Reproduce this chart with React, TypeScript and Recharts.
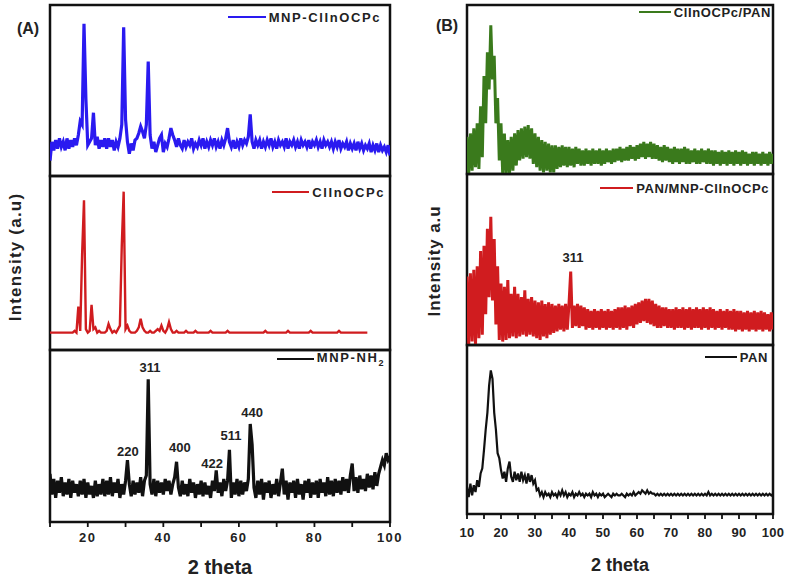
import React from "react"
import { LineChart, Line, XAxis, YAxis, ReferenceArea, ReferenceDot, Legend } from "recharts"

const FONT = '"Liberation Sans", Arial, Helvetica, sans-serif'

// 2θ sampling grid: every series starts at 10° and is read every 0.5°
const X_START = 10
const X_STEP = 0.5

// intensity values are read as % of each stacked frame's height

// (A) MNP-ClInOCPc
const mnpClInOCPc = [
	9, 20, 15, 21, 16, 22, 17, 20, 15, 22,
	16, 21, 17, 22, 18, 24, 32, 30, 89, 45,
	18, 20, 22, 37, 18, 23, 16, 21, 17, 22,
	16, 22, 17, 21, 15, 20, 17, 22, 30, 87,
	33, 20, 13, 19, 15, 21, 22, 25, 29, 26,
	22, 30, 67, 24, 16, 20, 14, 18, 22, 24,
	14, 19, 17, 22, 28, 24, 21, 17, 22, 18,
	16, 21, 17, 20, 18, 22, 16, 19, 17, 21,
	18, 22, 16, 20, 17, 21, 18, 22, 17, 20,
	16, 21, 18, 22, 28, 20, 17, 21, 16, 20,
	17, 22, 18, 21, 19, 23, 36, 20, 16, 21,
	18, 21, 16, 20, 17, 21, 18, 22, 17, 20,
	16, 21, 18, 20, 17, 22, 16, 20, 18, 21,
	17, 20, 16, 21, 18, 20, 17, 21, 16, 20,
	18, 21, 17, 20, 16, 21, 18, 20, 17, 20,
	16, 20, 17, 21, 16, 19, 17, 20, 15, 19,
	16, 19, 15, 20, 16, 19, 15, 18, 16, 19,
	14, 18, 15, 19, 14, 18, 15, 17, 14, 18,
	12,
]

// (A) ClInOCPc, recorded up to 94°
const clInOCPc = [
	10, 10, 10, 10, 10, 10, 10, 10, 10, 10,
	10, 10, 10, 11, 10, 25, 11, 55, 86, 12,
	10, 11, 26, 12, 13, 10, 11, 10, 10, 10,
	11, 15, 12, 10, 11, 10, 12, 14, 60, 91,
	12, 14, 11, 10, 10, 10, 11, 13, 18, 13,
	11, 10, 10, 11, 10, 10, 11, 12, 11, 14,
	11, 10, 12, 16, 12, 10, 10, 11, 10, 10,
	10, 10, 11, 10, 10, 10, 10, 11, 10, 10,
	10, 10, 10, 10, 10, 11, 10, 10, 10, 10,
	10, 10, 10, 10, 11, 10, 10, 10, 10, 10,
	10, 10, 10, 10, 10, 10, 10, 10, 10, 10,
	10, 10, 10, 10, 11, 10, 10, 10, 10, 10,
	10, 10, 10, 10, 10, 10, 11, 10, 10, 10,
	10, 10, 10, 10, 10, 10, 10, 10, 11, 10,
	10, 10, 10, 10, 10, 10, 10, 10, 10, 10,
	10, 10, 10, 11, 10, 10, 10, 10, 10, 10,
	10, 10, 10, 10, 10, 10, 10, 10, 10,
]

// (A) MNP-NH2
const mnpNH2 = [
	28, 16, 25, 14, 24, 17, 26, 15, 23, 16,
	25, 14, 24, 17, 22, 15, 24, 16, 25, 14,
	23, 16, 21, 14, 24, 15, 22, 16, 25, 15,
	24, 16, 26, 15, 23, 17, 25, 14, 22, 16,
	24, 36, 22, 15, 24, 16, 23, 17, 26, 15,
	24, 27, 83, 22, 16, 25, 15, 24, 17, 23,
	16, 25, 18, 24, 16, 22, 26, 35, 20, 15,
	24, 16, 22, 15, 25, 17, 23, 14, 22, 16,
	24, 15, 23, 16, 21, 14, 24, 18, 30, 17,
	23, 15, 25, 18, 24, 42, 14, 23, 16, 25,
	15, 24, 16, 23, 18, 25, 57, 45, 20, 14,
	24, 16, 25, 13, 23, 17, 24, 14, 22, 16,
	25, 15, 23, 31, 16, 24, 13, 23, 17, 24,
	14, 25, 16, 22, 13, 24, 17, 25, 14, 23,
	16, 24, 14, 25, 17, 23, 15, 26, 16, 24,
	15, 25, 17, 24, 16, 26, 18, 25, 17, 27,
	34, 18, 26, 17, 27, 19, 25, 18, 28, 20,
	27, 19, 29, 21, 28, 32, 36, 33, 40, 36,
	38,
]

// (B) ClInOCPc/PAN
const clInOCPcPAN = [
	22, 0, 24, 2, 27, 4, 30, 3, 40, 10,
	58, 30, 72, 50, 88, 56, 70, 30, 45, 8,
	30, 0, 24, 0, 20, 0, 22, 2, 24, 5,
	26, 8, 27, 9, 28, 10, 29, 9, 27, 6,
	24, 4, 22, 2, 20, 1, 19, 2, 18, 1,
	17, 1, 17, 3, 16, 4, 17, 5, 16, 4,
	16, 5, 15, 4, 16, 6, 15, 5, 14, 5,
	15, 6, 14, 5, 15, 6, 14, 6, 15, 5,
	14, 6, 15, 7, 14, 6, 15, 7, 15, 8,
	16, 7, 15, 8, 16, 8, 17, 9, 16, 8,
	17, 9, 18, 10, 19, 9, 18, 10, 19, 9,
	18, 9, 17, 8, 16, 7, 17, 8, 16, 7,
	15, 6, 16, 7, 15, 6, 15, 7, 16, 6,
	15, 6, 14, 7, 15, 6, 14, 6, 15, 7,
	14, 6, 15, 6, 14, 5, 14, 6, 13, 5,
	14, 6, 13, 5, 14, 6, 13, 5, 14, 6,
	13, 5, 14, 6, 13, 5, 12, 6, 13, 5,
	13, 6, 12, 5, 13, 6, 12, 5, 13, 6,
	12,
]

// (B) PAN/MNP-ClInOCPc
const panMnpClInOCPc = [
	40, 0, 42, 2, 44, 0, 46, 4, 55, 6,
	58, 18, 68, 28, 75, 26, 62, 12, 46, 3,
	36, 2, 34, 3, 38, 4, 30, 5, 34, 4,
	30, 5, 28, 6, 32, 5, 27, 6, 28, 5,
	26, 4, 25, 3, 26, 5, 24, 4, 25, 6,
	24, 7, 23, 8, 24, 9, 23, 8, 24, 9,
	24, 43, 10, 23, 11, 24, 10, 23, 11, 22,
	9, 21, 10, 20, 9, 21, 10, 20, 9, 21,
	10, 20, 9, 21, 10, 20, 9, 21, 10, 22,
	9, 22, 10, 23, 9, 22, 11, 23, 10, 24,
	12, 25, 13, 26, 14, 27, 13, 27, 12, 26,
	11, 24, 10, 23, 10, 22, 11, 22, 10, 21,
	10, 21, 9, 22, 10, 21, 10, 22, 9, 21,
	10, 22, 9, 21, 10, 22, 10, 21, 9, 22,
	10, 21, 9, 22, 10, 21, 9, 20, 10, 21,
	9, 20, 10, 21, 9, 20, 9, 21, 8, 20,
	9, 20, 8, 19, 9, 20, 8, 19, 9, 20,
	8, 19, 9, 20, 8, 19, 9, 18, 8, 19,
	9,
]

// (B) PAN
const pan = [
	16, 10, 18, 11, 17, 13, 20, 16, 24, 27,
	38, 50, 60, 76, 85, 80, 60, 50, 36, 33,
	26, 21, 25, 19, 27, 31, 22, 19, 25, 20,
	24, 19, 25, 20, 23, 18, 24, 19, 23, 18,
	20, 14, 15, 11, 13, 10, 13, 11, 12, 10,
	13, 11, 12, 10, 13, 11, 14, 11, 13, 10,
	12, 11, 13, 10, 12, 11, 13, 11, 12, 10,
	12, 11, 12, 10, 13, 11, 12, 10, 12, 11,
	12, 10, 11, 12, 11, 10, 12, 11, 12, 11,
	11, 12, 11, 10, 12, 11, 12, 11, 13, 11,
	12, 13, 12, 14, 13, 12, 14, 12, 13, 12,
	12, 11, 12, 11, 12, 11, 12, 11, 12, 11,
	12, 11, 12, 11, 12, 11, 12, 11, 12, 11,
	12, 11, 12, 11, 12, 11, 12, 11, 12, 11,
	12, 11, 13, 11, 12, 11, 12, 11, 12, 11,
	12, 11, 12, 11, 12, 11, 12, 11, 12, 11,
	12, 11, 12, 11, 12, 11, 12, 11, 12, 11,
	12, 11, 12, 11, 12, 11, 12, 11, 12, 11,
	12,
]

// Miller indices written beside the peaks
const nh2Peaks = [
	{ text: "311", x: 36.5, y: 90 },
	{ text: "220", x: 30.6, y: 41 },
	{ text: "400", x: 44.4, y: 43.5 },
	{ text: "422", x: 52.9, y: 34 },
	{ text: "511", x: 57.9, y: 50.5 },
	{ text: "440", x: 63.5, y: 64 },
]
const panMnpPeaks = [{ text: "311", x: 41.2, y: 51.5 }]

const ticksA = [10, 20, 30, 40, 50, 60, 70, 80, 90, 100]
const labelsA = [20, 40, 60, 80, 100]
const ticksB = [10, 15, 20, 25, 30, 35, 40, 45, 50, 55, 60, 65, 70, 75, 80, 85, 90, 95, 100]
const labelsB = [10, 20, 30, 40, 50, 60, 70, 80, 90, 100]

const toRows = (values: number[]) => values.map((y, i) => ({ x: X_START + i * X_STEP, y }))

// room round each frame so its border and end tick labels are not clipped
const MY = 3
const MX = 18

interface AxisOpts {
	ticks: number[]
	labels: number[]
	tickMargin: number
	tickFont: number
	tickSpacing: number
	height: number
	title: string
	titleSize: number
	titleOffset: number
}

interface SubplotProps {
	left: number
	top: number
	width: number
	height: number
	values: number[]
	color: string
	strokeWidth: number
	name: React.ReactNode
	legendTop: number
	legendRight: number
	legendLine: number
	legendSpacing: number
	axis?: AxisOpts
	peaks?: Array<{ text: string; x: number; y: number }>
}

const makeTick = (axis: AxisOpts) => (props: any) => {
	const { x, y, payload } = props
	const v = payload.value
	const major = axis.labels.includes(v)
	const y0 = y - 5 - axis.tickMargin
	return (
		<g>
			<line x1={x} x2={x} y1={y0} y2={y0 + 5} stroke="#111" strokeWidth={1.8} />
			{major && (
				<text x={x} y={y} dy="0.71em" textAnchor="middle" fill="#222" fontFamily={FONT}
					fontWeight={700} fontSize={axis.tickFont} letterSpacing={axis.tickSpacing}>
					{v}
				</text>
			)}
		</g>
	)
}

const Subplot = (p: SubplotProps) => {
	const axisH = p.axis ? p.axis.height : 0
	return (
		<div style={{ position: "absolute", left: p.left - MX, top: p.top - MY }}>
			<LineChart
				width={p.width + 2 * MX}
				height={p.height + MY + (p.axis ? axisH : MY)}
				data={toRows(p.values)}
				margin={{ top: MY, right: MX, left: MX, bottom: p.axis ? 0 : MY }}
			>
				<XAxis
					dataKey="x"
					type="number"
					domain={[10, 100]}
					allowDataOverflow
					hide={!p.axis}
					ticks={p.axis?.ticks}
					interval={0}
					height={axisH}
					axisLine={false}
					tickLine={false}
					tickSize={5}
					tickMargin={p.axis?.tickMargin}
					tick={p.axis ? makeTick(p.axis) : false}
					label={p.axis ? {
						value: p.axis.title, position: "insideBottom", offset: p.axis.titleOffset,
						fill: "#222", fontSize: p.axis.titleSize, fontWeight: 700, fontFamily: FONT,
					} : undefined}
				/>
				<YAxis type="number" domain={[0, 100]} allowDataOverflow hide />
				<ReferenceArea x1={10} x2={100} y1={0} y2={100} fill="none" fillOpacity={0}
					stroke="#111" strokeWidth={2.5} ifOverflow="visible" />
				<Line type="linear" dataKey="y" stroke={p.color} strokeWidth={p.strokeWidth}
					dot={false} activeDot={false} isAnimationActive={false} />
				{(p.peaks ?? []).map((pk) => (
					<ReferenceDot key={pk.text + pk.x} x={pk.x} y={pk.y} r={0} fill="none" stroke="none"
						ifOverflow="visible"
						label={{ value: pk.text, position: "center", fill: "#222", fontSize: 13, fontWeight: 700, fontFamily: FONT }} />
				))}
				<Legend
					layout="horizontal"
					verticalAlign="middle"
					align="center"
					wrapperStyle={{ top: MY + p.legendTop - 8, right: MX + p.legendRight, left: "auto", width: "auto" }}
					content={() => (
						<div style={{
							display: "flex", alignItems: "center", justifyContent: "flex-end", height: 16,
							fontFamily: FONT, fontWeight: 700, fontSize: 13, letterSpacing: p.legendSpacing,
							color: "#222", whiteSpace: "nowrap",
						}}>
							<span style={{ display: "inline-block", width: p.legendLine, height: 2.5, background: p.color, marginRight: 3 }} />
							<span>{p.name}</span>
						</div>
					)}
				/>
			</LineChart>
		</div>
	)
}

const axisA: AxisOpts = {
	ticks: ticksA, labels: labelsA, tickMargin: 6, tickFont: 13, tickSpacing: 1.5,
	height: 56, title: "2 theta", titleSize: 20, titleOffset: 4,
}
const axisB: AxisOpts = {
	ticks: ticksB, labels: labelsB, tickMargin: 9, tickFont: 13, tickSpacing: 0.3,
	height: 64, title: "2 theta", titleSize: 18, titleOffset: 7,
}

export default function App() {
	return (
		<div style={{ position: "absolute", left: 0, top: 0, width: 789, height: 578, background: "#fff", overflow: "hidden" }}>
			{/* panel A */}
			<Subplot left={50} top={5} width={340} height={171} values={mnpClInOCPc} color="#2a1af0" strokeWidth={3.2}
				name="MNP-ClInOCPc" legendTop={12} legendRight={9} legendLine={38} legendSpacing={1.6} />
			<Subplot left={50} top={176} width={340} height={174} values={clInOCPc} color="#d01c1f" strokeWidth={2.4}
				name="ClInOCPc" legendTop={16} legendRight={5} legendLine={37} legendSpacing={1.6} />
			<Subplot left={50} top={350} width={340} height={172} values={mnpNH2} color="#111" strokeWidth={3.2}
				name={<>MNP-NH<span style={{ fontSize: 9, verticalAlign: -4 }}>2</span></>}
				legendTop={9} legendRight={5} legendLine={37} legendSpacing={1.6} axis={axisA} peaks={nh2Peaks} />

			{/* panel B */}
			<Subplot left={467} top={5} width={306} height={169} values={clInOCPcPAN} color="#3a7a1c" strokeWidth={3}
				name="ClInOCPc/PAN" legendTop={7} legendRight={2} legendLine={32} legendSpacing={0.6} />
			<Subplot left={467} top={174} width={306} height={171} values={panMnpClInOCPc} color="#d01c1f" strokeWidth={3}
				name="PAN/MNP-ClInOCPc" legendTop={14} legendRight={4} legendLine={33} legendSpacing={0.6} peaks={panMnpPeaks} />
			<Subplot left={467} top={345} width={306} height={169} values={pan} color="#111" strokeWidth={2.2}
				name="PAN" legendTop={12} legendRight={5} legendLine={32} legendSpacing={0.6} axis={axisB} />

			<svg width={789} height={578} style={{ position: "absolute", left: 0, top: 0, pointerEvents: "none" }}>
				<g fontFamily={FONT} fontWeight={700} fill="#222">
					<text x={28} y={28} dy="0.35em" textAnchor="middle" fontSize={16}>(A)</text>
					<text x={447} y={25} dy="0.35em" textAnchor="middle" fontSize={16}>(B)</text>
					<text transform="translate(15,257) rotate(-90)" dy="0.35em" textAnchor="middle" fontSize={17} letterSpacing={1.2}>
						Intensity (a.u)
					</text>
					<text transform="translate(434,261) rotate(-90)" dy="0.35em" textAnchor="middle" fontSize={17} letterSpacing={0.9}>
						Intensity a.u
					</text>
				</g>
			</svg>
		</div>
	)
}
